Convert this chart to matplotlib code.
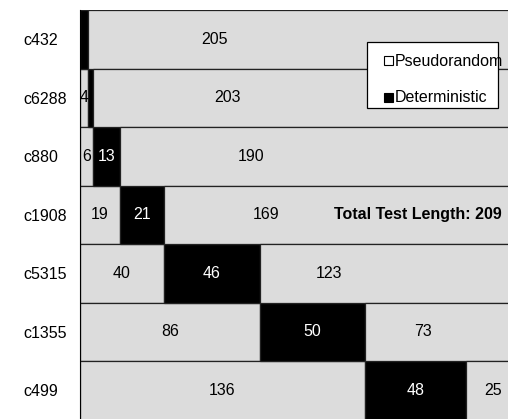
import matplotlib
matplotlib.use("Agg")
import matplotlib.pyplot as plt
import numpy as np
from matplotlib.patches import Rectangle

plt.rcParams['font.family'] = ['Liberation Sans', 'DejaVu Sans']

circuits = ['c432', 'c6288', 'c880', 'c1908', 'c5315', 'c1355', 'c499']
pseudo_before = [0, 4, 6, 19, 40, 86, 136]
deterministic = [4, 2, 13, 21, 46, 50, 48]
pseudo_after = [205, 203, 190, 169, 123, 73, 25]
# where the trailing pseudorandom counts are written (data units)
after_label_x = [64.4, 70.6, 81.6, 88.8, 118.9, 163.7, 197.1]
total_length = 209
legend_labels = ['Pseudorandom', 'Deterministic']

GRAY = '#dcdcdc'
FS = 11.5
W, H = 508, 419

fig = plt.figure(figsize=(W / 100, H / 100), dpi=100)
ax = fig.add_axes([80 / W, -0.5 / H, 437.9 / W, 409.5 / H])

y = np.arange(len(circuits))
before = np.array(pseudo_before)
det = np.array(deterministic)
after = np.array(pseudo_after)

bar_kw = dict(height=1.0, edgecolor='#222222', linewidth=0.9)
ax.barh(y, before, color=GRAY, **bar_kw)
ax.barh(y, det, left=before, color='black', **bar_kw)
ax.barh(y, after, left=before + det, color=GRAY, **bar_kw)

for i in range(len(circuits)):
    if before[i] > 0:
        ax.text(before[i] / 2, i, str(before[i]), ha='center', va='center',
                fontsize=FS, color='black')
    if det[i] > 5:
        ax.text(before[i] + det[i] / 2, i, str(det[i]), ha='center',
                va='center', fontsize=FS, color='white')
    ax.text(after_label_x[i], i, str(after[i]), ha='center', va='center',
            fontsize=FS, color='black')

ax.text(201.5, 3, 'Total Test Length: %d' % total_length, ha='right',
        va='center', fontsize=FS, fontweight='bold')

ax.set_xlim(0, total_length)
ax.set_ylim(len(circuits) - 0.5, -0.5)
ax.set_yticks(y)
ax.set_yticklabels(circuits, fontsize=FS)
for lbl in ax.get_yticklabels():
    lbl.set_horizontalalignment('left')
ax.tick_params(axis='y', length=0, pad=41)
ax.xaxis.set_visible(False)
for side in ['top', 'right', 'bottom']:
    ax.spines[side].set_visible(False)
ax.spines['left'].set_color('black')


# legend box drawn by hand, in pixel coordinates from the top-left corner
def px(x, y_top):
    return x / W, 1 - y_top / H


x0, y0 = px(367, 108)
fig.patches.append(Rectangle((x0, y0), 131 / W, 66 / H, transform=fig.transFigure,
                             facecolor='white', edgecolor='black',
                             linewidth=0.9, zorder=5))
for label, face, yc in zip(legend_labels, ['white', 'black'], [61, 98]):
    mx, my = px(384, yc + 4.5)
    fig.patches.append(Rectangle((mx, my), 9 / W, 9 / H,
                                 transform=fig.transFigure, facecolor=face,
                                 edgecolor='black', linewidth=0.8, zorder=6))
    tx, ty = px(395, yc)
    fig.text(tx, ty, label, ha='left', va='center', fontsize=FS, zorder=7)

fig.savefig('out.png', dpi=100)
